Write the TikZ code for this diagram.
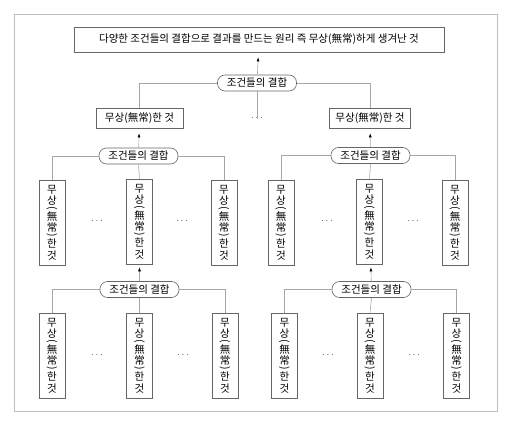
\documentclass[tikz,border=0pt]{standalone}
\usepackage{fontspec}
\setmainfont{Noto Sans CJK KR}
\usepackage{graphicx}
\usetikzlibrary{positioning,arrows.meta}
\newcommand{\vchar}[1]{\hbox to 12pt{\hss#1\hss}}
\newcommand{\vmusang}{\vbox{\offinterlineskip
  \vchar{무}\kern2pt\vchar{상}\kern1pt\vchar{\rotatebox{-90}{(}}\kern1.5pt
  \vchar{無}\kern2pt\vchar{常}\kern1pt\vchar{\rotatebox{-90}{)}}\kern1.5pt
  \vchar{한}\kern2.5pt\vchar{것}}}
\tikzset{
  box/.style={draw=black!60,line width=0.6pt,inner sep=3pt,font=\fontsize{10.5}{11.5}\selectfont},
  vbox/.style={box,minimum width=26pt,minimum height=85pt,inner sep=1pt},
  pill/.style={draw=black!60,line width=0.6pt,rounded corners=7.5pt,minimum width=79pt,minimum height=16pt,inner sep=1pt,font=\fontsize{10.5}{11.5}\selectfont},
  dots/.style={font=\fontsize{10}{11}\selectfont,text=black!70,inner sep=1pt},
  link/.style={draw=black!35,line width=0.6pt},
  up/.style={link,-{Latex[length=4pt,width=3pt,color=black]},shorten >=5pt}
}
\begin{document}
\begin{tikzpicture}[x=1pt,y=-1pt]
\useasboundingbox (0,0) rectangle (510,425);
\draw[black!25,line width=0.8pt] (14,14) rectangle (497,411);
\node[box,minimum width=370pt,minimum height=25pt] (top) at (259,39.5) {다양한 조건들의 결합으로 결과를 만드는 원리 즉 무상(無常)하게 생겨난 것};
\node[pill] (p0) at (257,83) {조건들의 결합};
\node[box,minimum width=87pt,minimum height=20pt] (m1) at (139.5,118) {무상(無常)한 것};
\node[dots] (d0) at (257,118) {$\cdots$};
\node[box,minimum width=81pt,minimum height=20pt] (m2) at (370,118) {무상(無常)한 것};
\node[pill] (p1) at (138.5,156) {조건들의 결합};
\node[pill] (p2) at (370.5,155.5) {조건들의 결합};
\node[vbox] (a1) at (52,222.5) {\vmusang};
\node[dots] (da1) at (97,221) {$\cdots$};
\node[vbox] (a2) at (139.5,221.5) {\vmusang};
\node[dots] (da2) at (182,221) {$\cdots$};
\node[vbox] (a3) at (224,222.5) {\vmusang};
\node[vbox] (b1) at (281,222.5) {\vmusang};
\node[dots] (db1) at (327,221) {$\cdots$};
\node[vbox] (b2) at (369.5,221.5) {\vmusang};
\node[dots] (db2) at (413,221) {$\cdots$};
\node[vbox] (b3) at (455,222.5) {\vmusang};
\node[pill] (p3) at (139.5,289.5) {조건들의 결합};
\node[pill] (p4) at (371.5,289.5) {조건들의 결합};
\node[vbox] (c1) at (52,355.5) {\vmusang};
\node[dots] (dc1) at (97,355) {$\cdots$};
\node[vbox] (c2) at (139.5,355.5) {\vmusang};
\node[dots] (dc2) at (183,355) {$\cdots$};
\node[vbox] (c3) at (225,355.5) {\vmusang};
\node[vbox] (e1) at (284.5,355.5) {\vmusang};
\node[dots] (de1) at (328,355) {$\cdots$};
\node[vbox] (e2) at (370,355.5) {\vmusang};
\node[dots] (de2) at (414,355) {$\cdots$};
\node[vbox] (e3) at (456.5,355.5) {\vmusang};
\draw[up] (p0) -- (top);
\draw[link] (p0.west) -| (m1.north);
\draw[link] (p0.east) -| (m2.north);
\draw[link] (p0.south) -- ([yshift=-4pt]d0.north);
\draw[up] (p1) -- (m1);
\draw[up] (p2) -- (m2);
\draw[link] (p1.west) -| (a1.north);
\draw[link] (p1.east) -| (a3.north);
\draw[link] (p1.south) -- (a2.north);
\draw[link] (p2.west) -| (b1.north);
\draw[link] (p2.east) -| (b3.north);
\draw[link] (p2.south) -- (b2.north);
\draw[up,shorten >=3pt] (p3) -- (a2);
\draw[up,shorten >=3pt] (p4) -- (b2);
\draw[link] (p3.west) -| (c1.north);
\draw[link] (p3.east) -| (c3.north);
\draw[link] (p3.south) -- (c2.north);
\draw[link] (p4.west) -| (e1.north);
\draw[link] (p4.east) -| (e3.north);
\draw[link] (p4.south) -- (e2.north);
\end{tikzpicture}
\end{document}
